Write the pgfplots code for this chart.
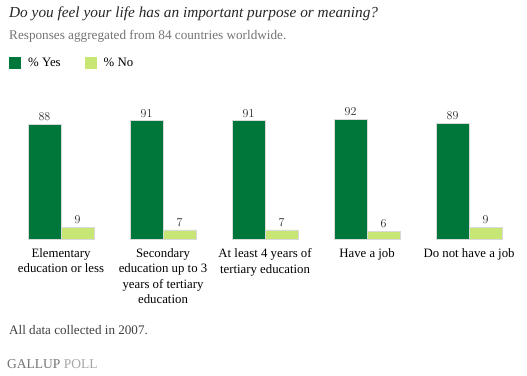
\documentclass[border=0pt]{standalone}
\usepackage{fontspec}
\setmainfont{Liberation Serif}
\usepackage{pgfplots}
\pgfplotsset{compat=1.18}
\definecolor{dkgreen}{HTML}{00773A}
\definecolor{ltgreen}{HTML}{C8E673}
\begin{document}
\begin{tikzpicture}[x=1pt,y=1pt]
\path[use as bounding box] (0,0) rectangle (527,375);
\node[anchor=base west, inner sep=0, font=\fontsize{15.3}{17}\selectfont\itshape, text=black!85] at (9,357) {Do you feel your life has an important purpose or meaning?};
\node[anchor=base west, inner sep=0, font=\fontsize{13.2}{15}\selectfont, text=black!55] at (9,335) {Responses aggregated from 84 countries worldwide.};
\node[anchor=base west, inner sep=0, font=\fontsize{13.1}{15}\selectfont, text=black!75] at (9,41) {All data collected in 2007.};
\node[anchor=base west, inner sep=0, font=\fontsize{13.5}{15}\selectfont] at (7,7) {\color{black!55}GALLUP \color{black!35}POLL};
\begin{axis}[
  at={(10pt,136pt)}, anchor=south west, scale only axis,
  width=507pt, height=130pt,
  xmin=-0.5, xmax=4.47, ymin=0, ymax=100,
  hide y axis,
  axis line style={draw=none},
  xtick={0,1,2,3,4}, major tick length=0pt,
  xticklabels={{Elementary\\education or less},{Secondary\\education up to 3\\years of tertiary\\education},{At least 4 years of\\tertiary education},{Have a job},{Do not have a job}},
  xticklabel style={align=center, font=\fontsize{12.8}{15.5}\selectfont, yshift=-6pt},
  extra y ticks={0}, extra y tick labels={},
  extra y tick style={grid=major, major grid style={draw=black!20, line width=2pt}},
  ybar, bar width=33pt,
  nodes near coords,
  every node near coord/.append style={font=\fontsize{12.8}{14}\selectfont, text=black!85},
  legend columns=2,
  legend style={at={(-0.002,1.354)}, anchor=west, draw=none, fill=none, inner sep=0pt,
    font=\fontsize{12.8}{14}\selectfont,
    /tikz/every even column/.append style={column sep=22pt}},
  legend image code/.code={\fill[#1,draw=none] (0pt,-6pt) rectangle (12pt,6pt); \path[draw=none,fill=none] (0pt,0pt) rectangle (17pt,0.1pt);},
  clip=false,
]
\addplot[fill=dkgreen, draw=black!15, line width=0.6pt, bar shift=-16.5pt] coordinates {(0,88) (1,91) (2,91) (3,92) (4,89)};
\addplot[fill=ltgreen, draw=black!15, line width=0.6pt, bar shift=16.5pt] coordinates {(0,9) (1,7) (2,7) (3,6) (4,9)};
\legend{\% Yes, \% No}
\end{axis}
\end{tikzpicture}
\end{document}
